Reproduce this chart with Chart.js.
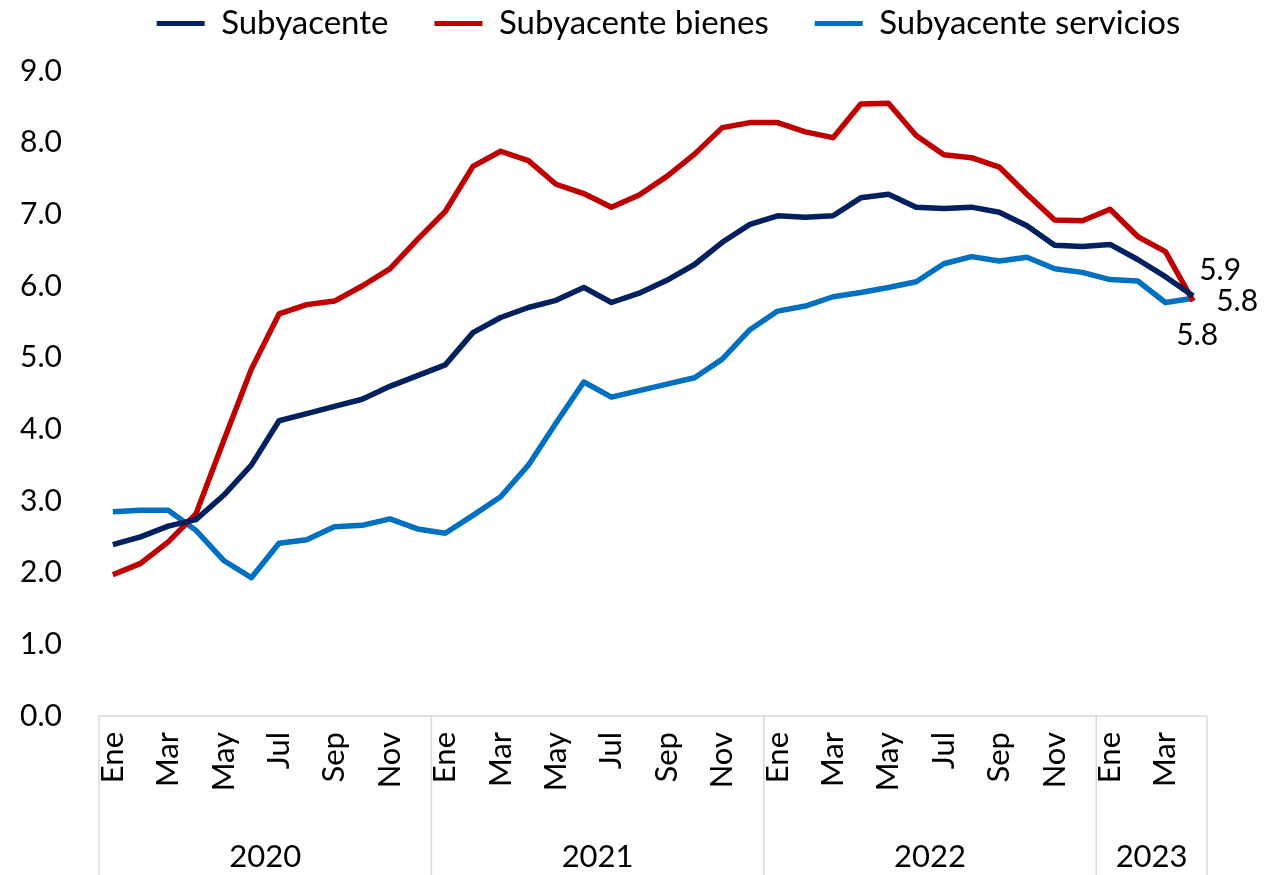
<!DOCTYPE html>
<html>
<head>
<meta charset="utf-8">
<script src="https://cdn.jsdelivr.net/npm/chart.js@4.4.0/dist/chart.umd.min.js"></script>
<style>
  html, body { margin: 0; padding: 0; background: #fff; }
</style>
</head>
<body>
<canvas id="chart" width="1281" height="875"></canvas>
<script>
const monthNames = ['Ene','Feb','Mar','Abr','May','Jun','Jul','Ago','Sep','Oct','Nov','Dic'];
const years = ['2020', '2021', '2022', '2023'];
const monthsPerYear = [12, 12, 12, 4];
const months = [].concat(monthNames, monthNames, monthNames, monthNames.slice(0, 4));

const subyacente = [
  2.39, 2.50, 2.65, 2.74, 3.08, 3.50, 4.12, 4.22, 4.32, 4.42, 4.60, 4.75,
  4.90, 5.35, 5.56, 5.70, 5.80, 5.98, 5.77, 5.90, 6.08, 6.30, 6.61, 6.86,
  6.98, 6.96, 6.98, 7.23, 7.28, 7.10, 7.08, 7.10, 7.03, 6.84, 6.57, 6.55,
  6.58, 6.37, 6.13, 5.86
];
const bienes = [
  1.97, 2.13, 2.43, 2.82, 3.84, 4.84, 5.61, 5.74, 5.79, 6.00, 6.24, 6.65,
  7.04, 7.67, 7.88, 7.75, 7.42, 7.29, 7.10, 7.27, 7.53, 7.84, 8.21, 8.28,
  8.28, 8.15, 8.07, 8.54, 8.55, 8.10, 7.83, 7.79, 7.66, 7.28, 6.92, 6.91,
  7.07, 6.69, 6.48, 5.79
];
const servicios = [
  2.85, 2.87, 2.87, 2.59, 2.17, 1.93, 2.41, 2.46, 2.64, 2.66, 2.75, 2.61,
  2.55, 2.80, 3.06, 3.50, 4.09, 4.66, 4.45, 4.54, 4.63, 4.72, 4.98, 5.39,
  5.65, 5.72, 5.85, 5.91, 5.98, 6.06, 6.31, 6.41, 6.35, 6.40, 6.24, 6.19,
  6.09, 6.07, 5.77, 5.83
];
const endLabels = ['5.9', '5.8', '5.8'];

const FONT = 'Lato';

// year row + separators under the month labels
const yearAxis = {
  id: 'yearAxis',
  afterDraw(chart) {
    const ctx = chart.ctx;
    const x = chart.scales.x;
    const half = (x.getPixelForValue(1) - x.getPixelForValue(0)) / 2;
    const axisY = chart.chartArea.bottom;
    ctx.save();
    ctx.strokeStyle = '#d9d9d9';
    ctx.lineWidth = 1.5;
    const left = x.getPixelForValue(0) - half;
    const right = x.getPixelForValue(months.length - 1) + half;
    ctx.beginPath();
    ctx.moveTo(left, axisY);
    ctx.lineTo(right, axisY);
    let start = 0;
    const edges = [left];
    monthsPerYear.forEach(n => { start += n; edges.push(x.getPixelForValue(start - 1) + half); });
    edges.forEach(px => { ctx.moveTo(px, axisY); ctx.lineTo(px, chart.height); });
    ctx.stroke();
    ctx.fillStyle = '#000';
    ctx.font = '31px ' + FONT;
    ctx.textAlign = 'center';
    ctx.textBaseline = 'middle';
    years.forEach((y, i) => {
      ctx.fillText(y, (edges[i] + edges[i + 1]) / 2, chart.height - 18);
    });
    ctx.restore();
  }
};

const endLabelPlugin = {
  id: 'endLabels',
  afterDatasetsDraw(chart) {
    const ctx = chart.ctx;
    ctx.save();
    ctx.fillStyle = '#000';
    ctx.font = '30px ' + FONT;
    ctx.textAlign = 'center';
    ctx.textBaseline = 'middle';
    chart.data.datasets.forEach((ds, i) => {
      const pts = chart.getDatasetMeta(i).data;
      const p = pts[pts.length - 1];
      ctx.fillText(endLabels[i], p.x + ds.labelDx, p.y + ds.labelDy);
    });
    ctx.restore();
  }
};

// a bit more room between the legend and the plot
const legendGap = {
  id: 'legendGap',
  beforeLayout(chart) {
    const lg = chart.legend;
    if (lg && !lg._gapDone) {
      const fit = lg.fit;
      lg.fit = function () { fit.call(this); this.height += 21; };
      lg._gapDone = true;
    }
  }
};

new Chart(document.getElementById('chart'), {
  type: 'line',
  data: {
    labels: months,
    datasets: [{
        label: 'Subyacente',
        data: subyacente,
        borderColor: '#002060',
        backgroundColor: '#002060',
        labelDx: 27, labelDy: -26
      }, {
        label: 'Subyacente bienes',
        data: bienes,
        borderColor: '#C00000',
        backgroundColor: '#C00000',
        labelDx: 4, labelDy: 34
      }, {
        label: 'Subyacente servicios',
        data: servicios,
        borderColor: '#0070C0',
        backgroundColor: '#0070C0',
        labelDx: 44, labelDy: 3
      }
    ]
  },
  options: {
    responsive: false,
    animation: false,
    layout: { padding: { top: -39, right: 0, bottom: 0, left: 56 } },
    elements: {
      line: { borderWidth: 5.5, tension: 0, borderJoinStyle: 'round' },
      point: { radius: 0 }
    },
    plugins: {
      tooltip: { enabled: false },
      legend: {
        position: 'top',
        labels: {
          color: '#000',
          font: { family: FONT, size: 33 },
          boxWidth: 48,
          boxHeight: 5,
          padding: 46,
          generateLabels(chart) {
            return Chart.defaults.plugins.legend.labels.generateLabels(chart).map(l => {
              l.lineWidth = 0;
              return l;
            });
          }
        }
      }
    },
    scales: {
      x: {
        offset: true,
        grid: { display: false, drawTicks: false },
        border: { display: false },
        ticks: {
          autoSkip: false,
          minRotation: 90,
          maxRotation: 90,
          padding: 16,
          color: '#000',
          font: { family: FONT, size: 31 },
          callback(val, idx) { return idx % 2 === 0 ? this.getLabelForValue(val) : ''; }
        },
        afterFit(scale) { scale.height = 159; }
      },
      y: {
        min: 0,
        max: 9,
        grid: { display: false, drawTicks: false },
        border: { display: false },
        ticks: {
          stepSize: 1,
          mirror: true,
          padding: -79,
          color: '#000',
          font: { family: FONT, size: 30 },
          callback(v) { return v.toFixed(1); }
        },
        afterFit(scale) { scale.width = 43; }
      },
      y2: {
        position: 'right',
        grid: { display: false, drawTicks: false },
        border: { display: false },
        ticks: { display: false },
        afterFit(scale) { scale.width = 74; }
      }
    }
  },
  plugins: [yearAxis, endLabelPlugin, legendGap]
});
</script>
</body>
</html>
